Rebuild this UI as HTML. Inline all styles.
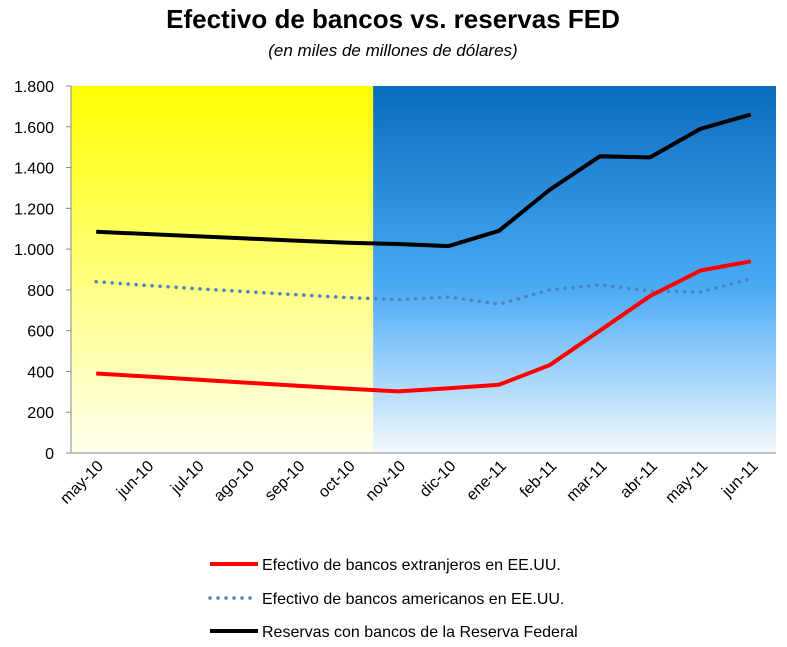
<!DOCTYPE html>
<html><head><meta charset="utf-8"><style>
body{margin:0;background:#fff;width:787px;height:642px;overflow:hidden;font-family:"Liberation Sans",Calibri,sans-serif}
</style></head><body>
<svg id="chart" width="787" height="642" xmlns="http://www.w3.org/2000/svg">
<defs>
<linearGradient id="gy" x1="0" y1="0" x2="0" y2="1"><stop offset="0" stop-color="#ffff00"/><stop offset="1" stop-color="#fffff0"/></linearGradient>
<linearGradient id="gb" x1="0" y1="0" x2="0" y2="1"><stop offset="0" stop-color="#0a6cbd"/><stop offset="0.55" stop-color="#4aabf5"/><stop offset="1" stop-color="#f4f9fd"/></linearGradient>
</defs>
<text x="393" y="28" text-anchor="middle" font-size="26" font-weight="bold">Efectivo de bancos vs. reservas FED</text>
<text x="393" y="56" text-anchor="middle" font-size="17" font-style="italic">(en miles de millones de dólares)</text>
<g id="plot"></g>
</svg>
<script>
const categories=["may-10","jun-10","jul-10","ago-10","sep-10","oct-10","nov-10","dic-10","ene-11","feb-11","mar-11","abr-11","may-11","jun-11"];
const extranjeros=[390,375,360,345,330,315,302,318,335,430,600,770,895,940];
const americanos=[840,822,806,791,776,762,752,765,730,800,825,795,790,855];
const reservas=[1085,1074,1063,1052,1041,1031,1025,1015,1090,1290,1455,1450,1590,1660];
const yTicks=[0,200,400,600,800,1000,1200,1400,1600,1800];
const yTickLabels=["0","200","400","600","800","1.000","1.200","1.400","1.600","1.800"];
const NS="http://www.w3.org/2000/svg";
const L=71,R=776,T=86,B=453,ymax=1800;
const band=(R-L)/categories.length;
const x=i=>L+band*(i+0.5);
const y=v=>B-(v/ymax)*(B-T);
const g=document.getElementById('plot');
function mk(t,a){const e=document.createElementNS(NS,t);for(const k in a)e.setAttribute(k,a[k]);g.appendChild(e);return e;}
let e=mk('rect',{x:L,y:T,width:L+band*6-L+1,height:B-T,fill:'url(#gy)'});


e=mk('rect',{x:L+band*6,y:T,width:R-(L+band*6),height:B-T,fill:'url(#gb)'});


e=mk('path',{d:`M${L},${T} V${B} H${R}`,stroke:'#888',fill:'none','stroke-width':1});


yTicks.forEach((v,i)=>{
 const t=mk('line',{x1:L-5,x2:L,y1:y(v),y2:y(v),stroke:'#888'});
 
 
 const l=mk('text',{x:54,y:y(v)+6,'text-anchor':'end','font-size':16});
 l.textContent=yTickLabels[i];
 
 
});
categories.forEach((c,i)=>{
 const l=mk('text',{transform:`translate(${x(i)+8},${B+14}) rotate(-45)`,'text-anchor':'end','font-size':16});
 l.textContent=c;
 
 
});
function linePath(arr){return arr.map((v,i)=>(i?'L':'M')+x(i).toFixed(1)+','+y(v).toFixed(1)).join(' ');}
e=mk('path',{d:linePath(americanos),stroke:'#4f81bd',fill:'none','stroke-width':3.5,'stroke-dasharray':'0.1 7.9','stroke-linecap':'round'});


e=mk('path',{d:linePath(extranjeros),stroke:'#ff0000',fill:'none','stroke-width':4,'stroke-linejoin':'round'});


e=mk('path',{d:linePath(reservas),stroke:'#000',fill:'none','stroke-width':4,'stroke-linejoin':'round'});


const leg=[["Efectivo de bancos extranjeros en EE.UU.","#ff0000",null,564],["Efectivo de bancos americanos en EE.UU.","#4f81bd","0.1 7.9",598],["Reservas con bancos de la Reserva Federal","#000",null,631]];
leg.forEach(([txt,col,dash,yy])=>{
 const a={x1:210,x2:258,y1:yy,y2:yy,stroke:col,'stroke-width':dash?3.5:4};
 if(dash){a['stroke-dasharray']=dash;a['stroke-linecap']='round';}
 const ln=mk('line',a);
 
 
 const t=mk('text',{x:262,y:yy+6,'font-size':16});
 t.textContent=txt;
 
 
});
</script>
</body></html>
